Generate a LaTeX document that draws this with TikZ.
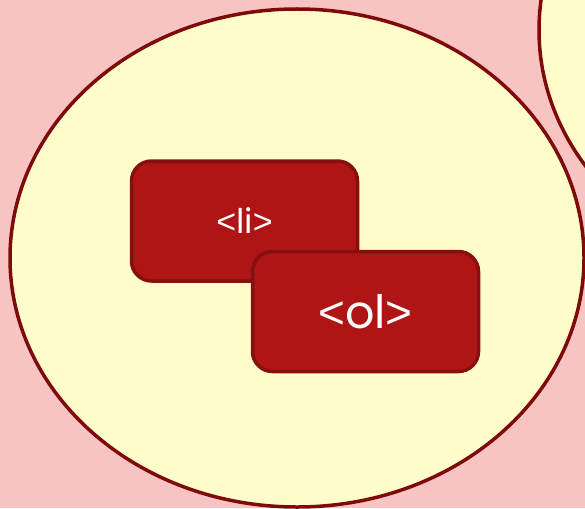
\documentclass[tikz,border=0pt]{standalone}
\usepackage{fontspec}
\setmainfont{Poppins}
\newfontfamily\bracketfont{Liberation Sans}
\usetikzlibrary{shapes.geometric}
\definecolor{bgpink}{HTML}{F7C3C3}
\definecolor{paleyellow}{HTML}{FFFDCB}
\definecolor{ringred}{HTML}{7E0A0A}
\definecolor{tagfill}{HTML}{B01515}
\definecolor{tagedge}{HTML}{861010}
\newcommand{\lbr}{{\bracketfont<}}
\newcommand{\rbr}{{\bracketfont>}}
\tikzset{
  bubble/.style={ellipse, draw=ringred, fill=paleyellow, line width=3.5pt, inner sep=0pt,
    minimum width=574pt, minimum height=498pt},
  tagbox/.style={rectangle, rounded corners=20pt, draw=tagedge, fill=tagfill, line width=3.5pt,
    minimum width=226pt, minimum height=120pt, inner sep=0pt, text=white}
}
\begin{document}
\begin{tikzpicture}[x=1pt,y=-1pt]
\fill[bgpink] (0,0) rectangle (585,508);
\useasboundingbox (0,0) rectangle (585,508);
\node[bubble] (other) at (826,30) {};
\node[bubble] (main) at (297,258) {};
\node[tagbox, font=\fontsize{34}{36}\selectfont] (li) at (244.5,221) {\lbr li\rbr};
\node[tagbox, font=\fontsize{46}{48}\selectfont] (ol) at (365.5,311.5) {\lbr ol\rbr};
\end{tikzpicture}
\end{document}
